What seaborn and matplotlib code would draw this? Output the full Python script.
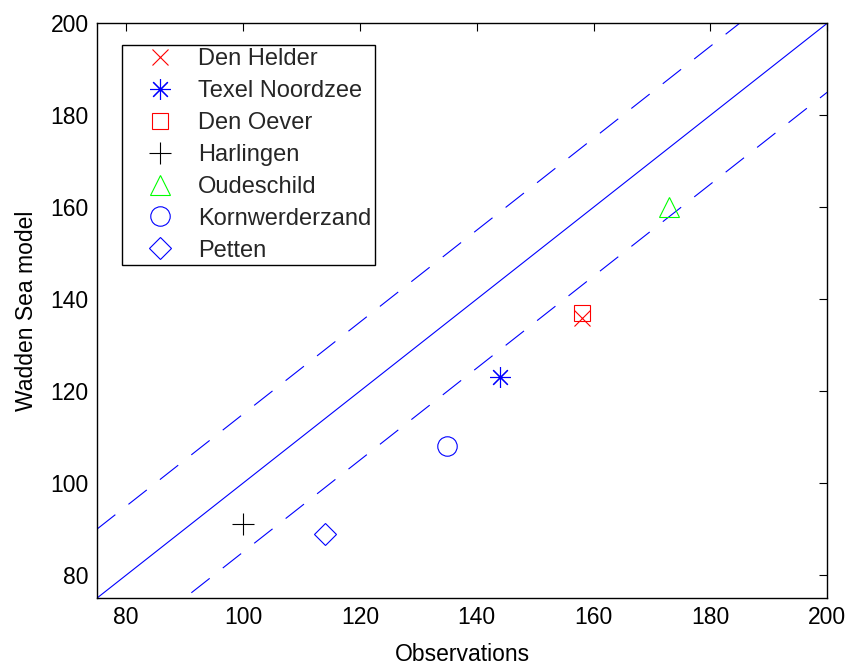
import matplotlib
matplotlib.use("Agg")
import matplotlib.pyplot as plt
import seaborn as sns

stations = ["Den Helder", "Texel Noordzee", "Den Oever", "Harlingen",
            "Oudeschild", "Kornwerderzand", "Petten"]
obs = [158, 144, 158, 100, 173, 135, 114]
model = [136, 123, 137, 91, 160, 108, 89]
markers = ["x", (8, 2, 0), "s", "+", "^", "o", "D"]
colors = ["#ff0000", "#0000ff", "#ff0000", "#000000", "#00ff00", "#0000ff", "#0000ff"]
sizes = [11, 15, 12, 16, 15, 14, 11]

line_x = [75, 200]
ref_y = [75, 200]
upper_y = [90, 215]
lower_y = [60, 185]

sns.set_theme(style="white")
plt.rcParams['font.family'] = ['Liberation Sans', 'DejaVu Sans']

fig = plt.figure(figsize=(8.51, 6.66), dpi=100)
ax = fig.add_axes([0.114, 0.102, 0.858, 0.863])

blue = "#0000ff"
sns.lineplot(x=line_x, y=ref_y, ax=ax, color=blue, lw=0.8)
sns.lineplot(x=line_x, y=upper_y, ax=ax, color=blue, lw=0.8)
sns.lineplot(x=line_x, y=lower_y, ax=ax, color=blue, lw=0.8)
for l in ax.lines[1:3]:
    l.set_dashes((21, 15))

for s, xv, yv, m, c, ms in zip(stations, obs, model, markers, colors, sizes):
    sns.lineplot(x=[xv], y=[yv], ax=ax, marker=m, linestyle="", color=c,
                 mfc="none", mec=c, ms=ms, mew=0.8, label=s)

ax.set_xlim(75, 200)
ax.set_ylim(75, 200)
ax.set_xticks([80, 100, 120, 140, 160, 180, 200])
ax.set_yticks([80, 100, 120, 140, 160, 180, 200])
ax.tick_params(direction="in", length=6, width=0.8, top=True, right=True,
               labelsize=16.5, colors="black", pad=6)
for sp in ax.spines.values():
    sp.set_color("black")
    sp.set_linewidth(1.0)
ax.set_xlabel("Observations", fontsize=16.5, labelpad=10, color="black")
ax.set_ylabel("Wadden Sea model", fontsize=16.5, labelpad=9, color="black")

leg = ax.legend(loc="upper left", bbox_to_anchor=(0.034, 0.963), fontsize=17,
                frameon=True, fancybox=False, edgecolor="black", framealpha=1,
                borderaxespad=0, handlelength=2.92, handletextpad=0.15,
                labelspacing=0.42, borderpad=0.15, numpoints=1)
leg.get_frame().set_linewidth(1.0)

fig.savefig("out.png", dpi=100)
